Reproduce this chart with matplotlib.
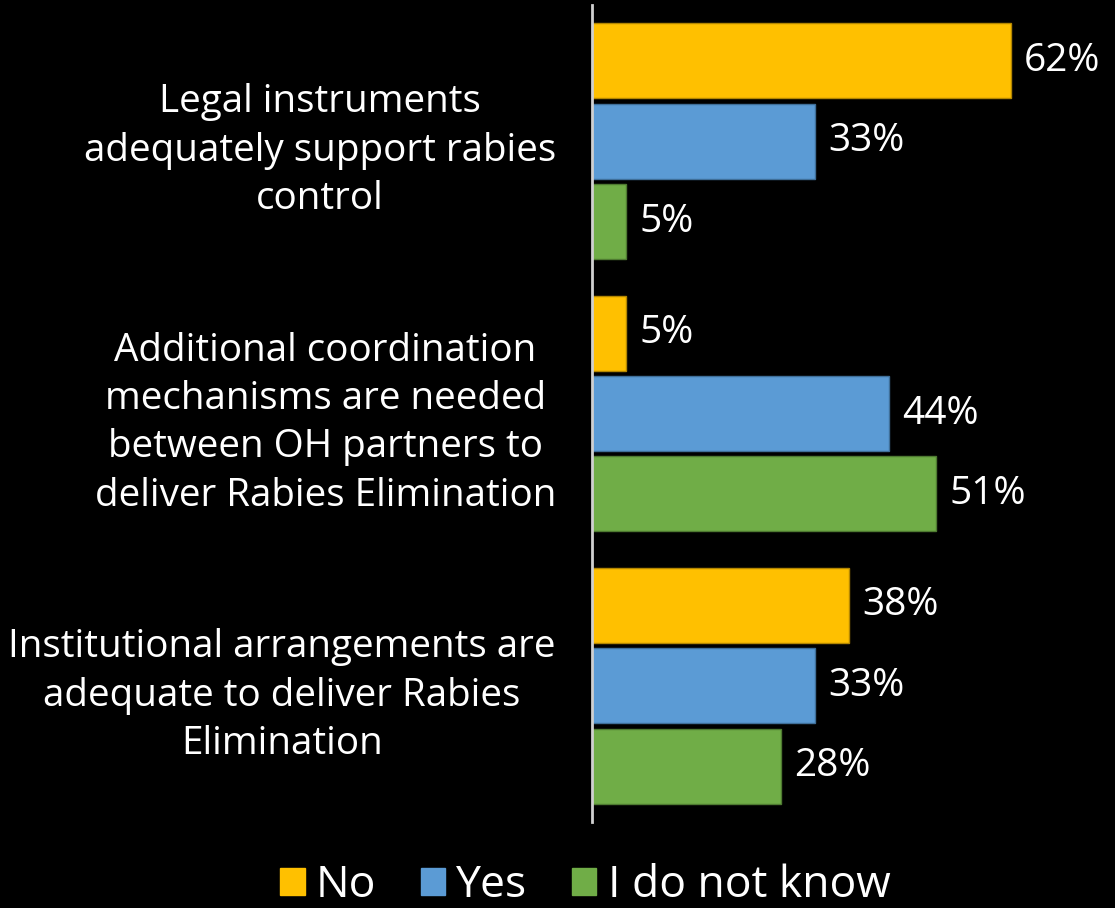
import numpy as np
import matplotlib.pyplot as plt
from matplotlib.patches import Patch

plt.rcParams['font.family'] = ['Open Sans', 'DejaVu Sans']

statements = [
    "Legal instruments\nadequately support rabies\ncontrol",
    "Additional coordination\nmechanisms are needed\nbetween OH partners to\ndeliver Rabies Elimination",
    "Institutional arrangements are\nadequate to deliver Rabies\nElimination",
]
series_names = ["No", "Yes", "I do not know"]
no_pct = [62, 5, 38]
yes_pct = [33, 44, 33]
dont_know_pct = [5, 51, 28]
colors = ["#FFC000", "#5B9BD5", "#70AD47"]
edges = ["#B38600", "#3F6F99", "#4E7A31"]

fig = plt.figure(figsize=(11.15, 9.08), dpi=100, facecolor="black")
ax = fig.add_axes([592 / 1115, 86 / 908, 1 - 592 / 1115, 817 / 908])
ax.set_facecolor("black")

y = np.arange(len(statements))
offset = 0.295
height = 0.275
for i, vals in enumerate([no_pct, yes_pct, dont_know_pct]):
    pos = y + (i - 1) * offset
    bars = ax.barh(pos, vals, height=height, color=colors[i],
                   edgecolor=edges[i], linewidth=1)
    for b, v in zip(bars, vals):
        ax.text(v + 2.0, b.get_y() + b.get_height() / 2, f"{v}%",
                color="white", fontsize=28, va="center", ha="left")

ax.set_xlim(0, 523 / 6.75)
ax.set_ylim(2.5, -0.5)
ax.set_yticks(y)
ax.set_yticklabels(statements, fontsize=27.8, color="white",
                   ha="right", multialignment="center", linespacing=1.36)
ax.tick_params(axis="y", length=0, pad=26)
ax.set_xticks([])
for s in ["top", "right", "bottom"]:
    ax.spines[s].set_visible(False)
ax.spines["left"].set_color("#D0D0D0")
ax.spines["left"].set_linewidth(2)

handles = [Patch(facecolor=c, edgecolor=c) for c in colors]
fig.legend(handles, series_names, loc="center", bbox_to_anchor=(0.525, 22 / 908),
           ncol=3, frameon=False, fontsize=32, labelcolor="white",
           handlelength=0.55, handleheight=0.55, handletextpad=0.25,
           columnspacing=1.0)

fig.savefig("out.png", dpi=100, facecolor="black")
